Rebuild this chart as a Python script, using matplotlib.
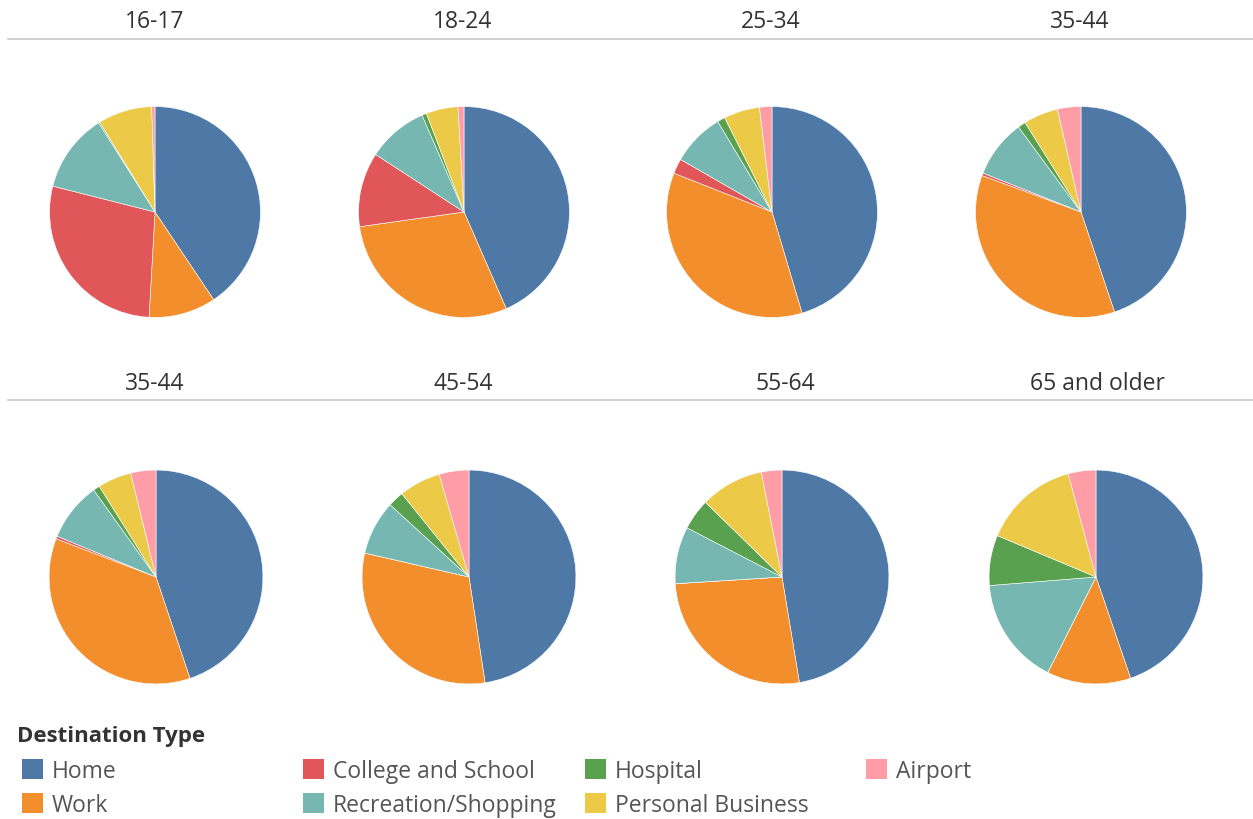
import matplotlib.pyplot as plt
from matplotlib.patches import Rectangle
from matplotlib.lines import Line2D

plt.rcParams['font.family'] = ['Open Sans', 'DejaVu Sans']

destinations = ['Home', 'Work', 'College and School', 'Recreation/Shopping',
                'Hospital', 'Personal Business', 'Airport']
colors = ['#4e79a7', '#f28e2b', '#e15759', '#76b7b2',
          '#59a14f', '#edc948', '#ff9da7']

age_groups = ['16-17', '18-24', '25-34', '35-44',
              '35-44', '45-54', '55-64', '65 and older']

# share of trips (%) per destination, same order as destinations
share_16_17 = [40.7, 10.3, 28.1, 12.1, 0.2, 8.3, 0.5]
share_18_24 = [43.4, 29.3, 11.4, 9.3, 0.7, 4.9, 0.9]
share_25_34 = [45.4, 35.6, 2.3, 8.1, 1.2, 5.5, 1.9]
share_35_44 = [44.9, 35.8, 0.4, 8.9, 1.2, 5.3, 3.6]
share_35_44b = [44.9, 36.0, 0.4, 8.9, 1.0, 5.1, 3.8]
share_45_54 = [47.6, 31.0, 0.0, 8.2, 2.4, 6.3, 4.5]
share_55_64 = [47.4, 26.6, 0.0, 8.6, 4.7, 9.6, 3.1]
share_65_up = [44.8, 12.7, 0.0, 16.3, 7.6, 14.5, 4.2]

shares = [share_16_17, share_18_24, share_25_34, share_35_44,
          share_35_44b, share_45_54, share_55_64, share_65_up]

W, H = 1253, 820
fig = plt.figure(figsize=(W / 100, H / 100), dpi=100)

# pixel layout: (centre x, centre y, radius) for each pie
row1_x = [155, 464, 772, 1081]
row2_x = [156, 469, 782, 1096]
title_x1 = [155, 463, 771, 1080]
title_x2 = [155, 463, 785, 1097]
pies = [(x, 213, 106.5) for x in row1_x] + [(x, 578, 108) for x in row2_x]
title_pos = [(x, 22) for x in title_x1] + [(x, 384) for x in title_x2]

for i, (vals, label) in enumerate(zip(shares, age_groups)):
    cx, cy, r = pies[i]
    ax = fig.add_axes([(cx - r) / W, 1 - (cy + r) / H, 2 * r / W, 2 * r / H])
    ax.pie(vals, colors=colors, startangle=90, counterclock=False, radius=1,
           wedgeprops=dict(linewidth=0.4, edgecolor='white'))
    ax.set_xlim(-1.01, 1.01)
    ax.set_ylim(-1.01, 1.01)
    ax.set_aspect('auto')
    ax.axis('off')
    tx, ty = title_pos[i]
    fig.text(tx / W, 1 - ty / H, label, ha='center', va='center',
             fontsize=16.5, color='#333333')

# separator lines under the header rows
for y in [40, 401]:
    fig.add_artist(Line2D([8 / W, 1], [1 - y / H, 1 - y / H],
                          color='#c8c8c8', linewidth=1.2))

# legend
fig.text(17 / W, 1 - 737 / H, 'Destination Type', ha='left', va='center',
         fontsize=16, fontweight='bold', color='#333333')
legend_pos = {
    'Home': (22, 770), 'Work': (22, 804),
    'College and School': (303, 770), 'Recreation/Shopping': (303, 804),
    'Hospital': (585, 770), 'Personal Business': (585, 804),
    'Airport': (866, 770),
}
for name, color in zip(destinations, colors):
    x, y = legend_pos[name]
    fig.add_artist(Rectangle((x / W, 1 - (y + 10) / H), 21 / W, 20 / H,
                             transform=fig.transFigure, facecolor=color,
                             edgecolor='none'))
    fig.text((x + 30) / W, 1 - (y + 2) / H, name, ha='left', va='center',
             fontsize=16.5, color='#555555')

fig.savefig('out.png', dpi=100, facecolor='white')
